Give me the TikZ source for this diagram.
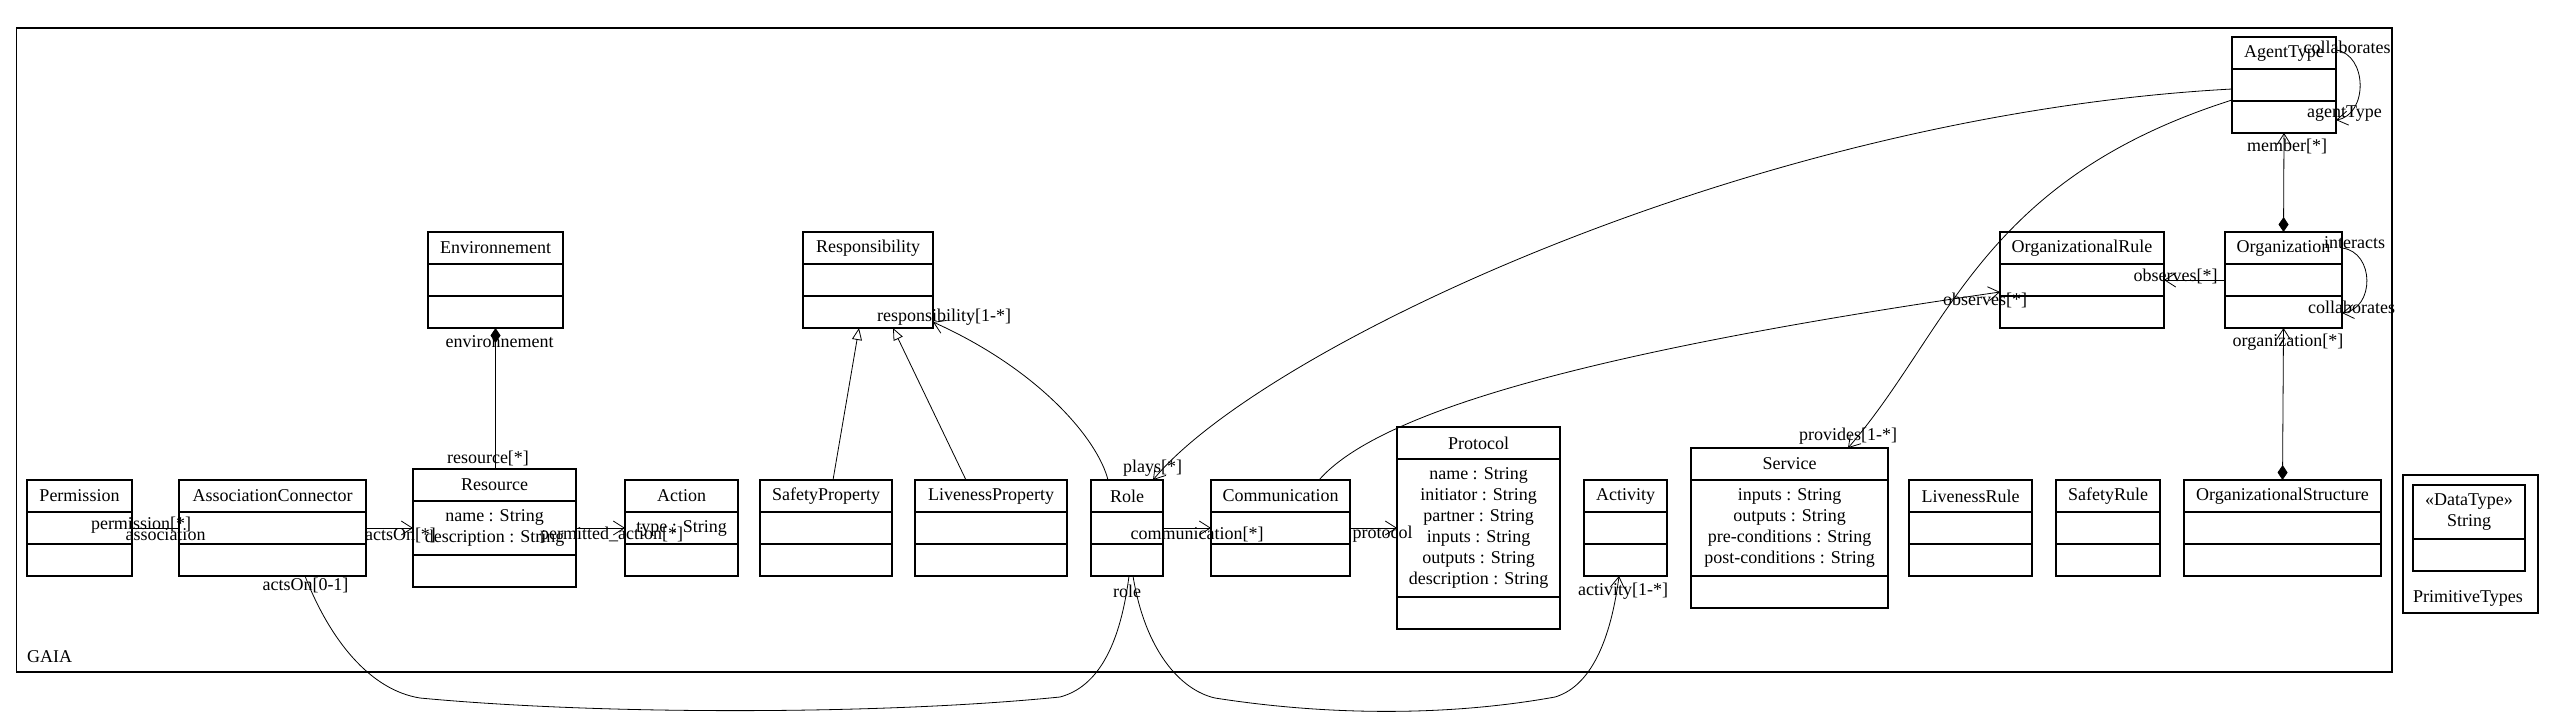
\documentclass[tikz,border=0pt]{standalone}
\usepackage{fontspec}
\setmainfont{Liberation Serif}
\usetikzlibrary{arrows.meta}
\tikzset{
  umlnav/.tip={Straight Barb[length=11pt,width=14pt]},
  umlgen/.tip={Triangle[open,length=12pt,width=10pt]},
  umldia/.tip={Diamond[length=15pt,width=10pt]},
}
\newcommand{\umlcls}[8]{%
  \node[clsbox, minimum width={#4-#2}, minimum height={#5-#3}] (#1) at ({(#2+#4)/2},{(#3+#5)/2}) {};
  \draw[clsline] (#2,#6) -- (#4,#6);
  \draw[clsline] (#2,#7) -- (#4,#7);
  \node[lbl] (#1-t) at ({(#2+#4)/2},{(#3+#6)/2}) {#8};
}
\begin{document}
\begin{tikzpicture}[x=1pt,y=-1pt,
  clsbox/.style={draw, line width=1.1pt, fill=white, inner sep=0pt, outer sep=0pt, rectangle},
  clsline/.style={line width=1.1pt},
  pkg/.style={draw, line width=1.1pt, inner sep=0pt, outer sep=0pt, rectangle},
  lbl/.style={inner sep=0pt, font=\fontsize{18}{21}\selectfont},
  conn/.style={line width=0.8pt},
]
\useasboundingbox (0,0) rectangle (2553,721);
\fill[white] (0,0) rectangle (2553,721);

% packages
\node[pkg, minimum width=2375.5, minimum height=644] (gaia) at (1204.25,350) {};
\node[lbl, anchor=west] (gaia-l) at (27,657) {GAIA};
\node[pkg, minimum width=135, minimum height=138] (prim) at (2470.5,544) {};
\node[lbl] (prim-l) at (2468,598) {PrimitiveTypes};

% classes
\umlcls{perm}{27}{480}{132}{576}{512}{544}{Permission}
\umlcls{ac}{179}{480}{366}{576}{512}{544}{AssociationConnector}
\umlcls{res}{413}{469}{576}{587}{501}{555}{Resource}
\node[lbl, align=center] (res-a) at (494.5,528) {name : String\\description : String};
\umlcls{act}{625}{480}{738}{576}{512}{544}{Action}
\node[lbl] (act-a) at (681.5,528) {type : String};
\umlcls{env}{428}{232}{563}{328}{264}{296}{Environnement}
\umlcls{resp}{803}{232}{933}{328}{264}{296}{Responsibility}
\umlcls{sp}{760}{480}{892}{576}{512}{544}{SafetyProperty}
\umlcls{lp}{915}{480}{1067}{576}{512}{544}{LivenessProperty}
\umlcls{role}{1091}{480}{1163}{576}{512}{544}{Role}
\umlcls{comm}{1211}{480}{1350}{576}{512}{544}{Communication}
\umlcls{prot}{1397}{427}{1560}{629}{459}{597}{Protocol}
\node[lbl, align=center] (prot-a) at (1478.5,528) {name : String\\initiator : String\\partner : String\\inputs : String\\outputs : String\\description : String};
\umlcls{actv}{1584}{480}{1667}{576}{512}{544}{Activity}
\umlcls{serv}{1691}{448}{1888}{608}{480}{576}{Service}
\node[lbl, align=center] (serv-a) at (1789.5,528) {inputs : String\\outputs : String\\pre-conditions : String\\post-conditions : String};
\umlcls{lr}{1909}{480}{2032}{576}{512}{544}{LivenessRule}
\umlcls{sr}{2056}{480}{2160}{576}{512}{544}{SafetyRule}
\umlcls{os}{2184}{480}{2381}{576}{512}{544}{OrganizationalStructure}
\umlcls{orule}{2000}{232}{2164}{328}{264}{296}{OrganizationalRule}
\umlcls{org}{2225}{232}{2342}{328}{264}{296}{Organization}
\umlcls{agent}{2232}{37}{2336}{133}{69}{101}{AgentType}
% datatype String
\node[clsbox, minimum width=112, minimum height=86] (str) at (2469,528) {};
\draw[clsline] (2413,539) -- (2525,539);
\node[lbl, align=center] (str-t) at (2469,512) {«DataType»\\String};

% connectors
\draw[conn] (perm.east) -- (ac.west);
\draw[conn, -umlnav] (ac.east) -- (res.west);
\draw[conn, -umlnav] (res.east) -- (act.west);
\draw[conn, umldia-] (env.south) -- (env.south |- res.north);
\draw[conn, -umlgen] ([xshift=73pt]sp.north west) -- ([xshift=56pt]resp.south west);
\draw[conn, -umlgen] ([xshift=51pt]lp.north west) -- ([xshift=90pt]resp.south west);
\draw[conn, -umlnav] ([xshift=17pt]role.north west) .. controls (1098,440) and (1040,370) .. ([yshift=6pt]resp.south east);
\draw[conn, -umlnav] ([yshift=-4pt]agent.west) .. controls (1750,115) and (1260,350) .. ([xshift=62pt]role.north west);
\draw[conn, -umlnav] ([yshift=-15pt]agent.west) .. controls (1980,180) and (1950,330) .. ([xshift=157pt]serv.north west);
\draw[conn, -umlnav] ([xshift=108pt]comm.north west) .. controls (1380,410) and (1600,350) .. ([yshift=36pt]orule.south west);
\draw[conn, -umlnav] (org.west) -- (orule.east);
\draw[conn, umlnav-umldia] (org.south) -- (os.north);
\draw[conn, umlnav-umldia] (agent.south) -- (org.north);
\draw[conn, -umlnav] ([yshift=-13pt]agent.north east) .. controls (2368,55) and (2368,115) .. ([yshift=13pt]agent.south east);
\draw[conn, -umlnav] ([yshift=-16pt]org.north east) .. controls (2375,252) and (2375,309) .. ([yshift=15pt]org.south east);
\draw[conn, -umlnav] (role.east) -- (comm.west);
\draw[conn, -umlnav] (comm.east) -- (prot.west);
\draw[conn] ([xshift=126pt]ac.south west) .. controls (330,640) and (370,690) .. (420,698) .. controls (600,715) and (880,715) .. (1060,697) .. controls (1105,685) and (1122,630) .. ([xshift=38pt]role.south west);
\draw[conn, -umlnav] ([xshift=42pt]role.south west) .. controls (1145,650) and (1180,690) .. (1215,698) .. controls (1330,716) and (1450,716) .. (1555,697) .. controls (1595,685) and (1612,630) .. ([xshift=35pt]actv.south west);

% connector labels
\node[lbl] (l1) at (141,525) {permission[*]};
\node[lbl] (l2) at (165.5,535) {association};
\node[lbl] (l3) at (400.5,535) {actsOn[*]};
\node[lbl] (l4) at (611.5,535) {permitted\_action[*]};
\node[lbl] (l5) at (499.5,342) {environnement};
\node[lbl] (l6) at (488,458) {resource[*]};
\node[lbl] (l7) at (944,317) {responsibility[1-*]};
\node[lbl] (l8) at (1152.5,468) {plays[*]};
\node[lbl] (l9) at (1197,534) {communication[*]};
\node[lbl] (l10) at (1382.5,534) {protocol};
\node[lbl] (l11) at (1127,591) {role};
\node[lbl] (l12) at (1623,591) {activity[1-*]};
\node[lbl] (l13) at (305.5,585) {actsOn[0-1]};
\node[lbl] (l14) at (1848,436) {provides[1-*]};
\node[lbl] (l15) at (1985,300) {observes[*]};
\node[lbl] (l16) at (2175.5,276) {observes[*]};
\node[lbl] (l17) at (2288,342) {organization[*]};
\node[lbl] (l18) at (2287,146) {member[*]};
\node[lbl] (l19) at (2347,47) {collaborates};
\node[lbl] (l20) at (2344.5,114) {agentType};
\node[lbl] (l21) at (2354.5,243) {interacts};
\node[lbl] (l22) at (2351.5,307) {collaborates};
\end{tikzpicture}
\end{document}
